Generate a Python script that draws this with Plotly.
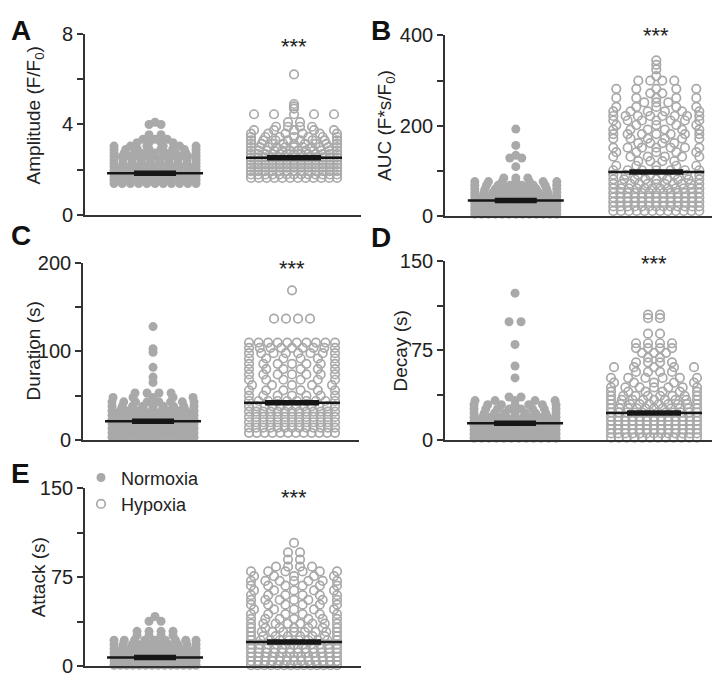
import plotly.graph_objects as go

# ---------------- data ----------------
groups = ["Normoxia", "Hypoxia"]

# A: Amplitude (F/F0)  -- value levels and number of cells at each level
amp_norm_levels = [1.40, 1.55, 1.70, 1.85, 2.00, 2.15, 2.30, 2.45, 2.60, 2.75, 2.90, 3.05, 3.20, 3.35, 3.55, 4.00, 4.10]
amp_norm_counts = [11, 11, 11, 11, 11, 11, 10, 10, 11, 9, 8, 6, 4, 3, 2, 2, 1]
amp_hyp_levels = [1.65, 1.80, 1.95, 2.10, 2.25, 2.40, 2.55, 2.70, 2.85, 3.00, 3.15, 3.30, 3.45, 3.60, 3.75, 3.90, 4.10, 4.45, 4.70, 4.80, 4.90, 6.20]
amp_hyp_counts = [12, 13, 13, 13, 13, 13, 13, 13, 12, 11, 9, 8, 7, 6, 5, 4, 2, 5, 1, 1, 1, 1]
amp_means = [1.86, 2.54]

# B: AUC (F*s/F0)
auc_norm_levels = [5, 13, 21, 29, 37, 45, 53, 61, 69, 77, 85, 110, 129, 135, 157, 193]
auc_norm_counts = [13, 14, 14, 13, 12, 11, 10, 9, 8, 7, 3, 1, 2, 1, 1, 1]
auc_hyp_levels = [12, 22, 32, 42, 52, 62, 72, 82, 92, 102, 112, 122, 132, 142, 152, 162, 172, 182, 192, 202,
                  212, 222, 232, 242, 252, 262, 272, 282, 300, 310, 325, 335, 345]
auc_hyp_counts = [12, 13, 13, 13, 13, 12, 11, 9, 8, 7, 5, 4, 6, 5, 7, 4, 6, 7, 6, 5,
                  7, 8, 6, 5, 3, 5, 2, 5, 4, 1, 1, 1, 1]
auc_means = [35, 98]

# C: Duration (s)
dur_norm_levels = [3, 8, 13, 18, 23, 28, 33, 38, 43, 48, 53, 65, 71, 82, 99, 103, 128]
dur_norm_counts = [12, 13, 13, 13, 13, 12, 11, 9, 8, 5, 4, 1, 1, 1, 1, 1, 1]
dur_hyp_levels = [8, 14, 20, 26, 32, 38, 44, 50, 56, 62, 68, 74, 80, 86, 92, 98, 104, 110, 137, 169]
dur_hyp_counts = [12, 13, 13, 13, 13, 12, 10, 7, 6, 5, 6, 7, 6, 7, 6, 8, 9, 10, 4, 1]
dur_means = [21, 42]

# D: Decay (s)
dec_norm_levels = [1.5, 5, 8.5, 12, 15.5, 19, 22.5, 26, 29.5, 33, 36, 52, 62, 80, 99, 123]
dec_norm_counts = [12, 13, 13, 12, 12, 11, 9, 8, 7, 5, 2, 1, 1, 1, 2, 1]
dec_hyp_levels = [2, 5.5, 9, 12.5, 16, 19.5, 23, 26.5, 30, 33.5, 37, 40.5, 44, 48, 52, 57, 61, 65, 69, 73, 77, 81, 89, 102, 105]
dec_hyp_counts = [12, 13, 13, 13, 13, 13, 12, 11, 10, 9, 8, 6, 7, 5, 6, 4, 5, 4, 2, 3, 4, 4, 2, 2, 2]
dec_means = [14, 22.5]

# E: Attack (s)
att_norm_levels = [1, 4.5, 8, 11.5, 15, 18.5, 22, 26, 29.5, 38, 42]
att_norm_counts = [14, 14, 13, 12, 11, 10, 9, 4, 4, 2, 1]
att_hyp_levels = [1, 4.5, 8, 11.5, 15, 18.5, 22, 25.5, 29, 32.5, 36, 40, 44, 48, 52, 56, 60, 64, 68, 72, 76, 80, 84, 90, 96, 104]
att_hyp_counts = [14, 13, 13, 12, 12, 11, 10, 8, 9, 7, 8, 7, 6, 5, 6, 7, 6, 5, 6, 7, 5, 6, 4, 2, 2, 1]
att_means = [7.5, 20.5]

# ---------------- layout / style ----------------
W, H = 720, 681
GRAY = "#a9a9a9"
AXC = "#333333"
FONT = "Liberation Sans, Arial, sans-serif"
XR = [-0.504, 1.482]          # category positions 0 and 1

panels = [
    dict(letter="A", xd=(77, 353), yd=(15, 203), yr=(0, 8), major=4, minor=2,
         title="Amplitude (F/F<sub>0</sub>)", tx=27, ty=0.55, lpos=(1, 12), star=0.93,
         data=(amp_norm_levels, amp_norm_counts, amp_hyp_levels, amp_hyp_counts, amp_means)),
    dict(letter="B", xd=(437, 716), yd=(17, 204), yr=(0, 400), major=200, minor=100,
         title="AUC (F*s/F<sub>0</sub>)", tx=378, ty=0.5, lpos=(361, 12), star=1.0,
         data=(auc_norm_levels, auc_norm_counts, auc_hyp_levels, auc_hyp_counts, auc_means)),
    dict(letter="C", xd=(75, 351), yd=(252, 435), yr=(0, 200), major=100, minor=50,
         title="Duration (s)", tx=25, ty=0.5, lpos=(1, 224), star=0.967,
         data=(dur_norm_levels, dur_norm_counts, dur_hyp_levels, dur_hyp_counts, dur_means)),
    dict(letter="D", xd=(437, 713), yd=(250, 435), yr=(0, 150), major=75, minor=37.5,
         title="Decay (s)", tx=392, ty=0.5, lpos=(361, 226), star=0.984,
         data=(dec_norm_levels, dec_norm_counts, dec_hyp_levels, dec_hyp_counts, dec_means)),
    dict(letter="E", xd=(77, 353), yd=(485, 669), yr=(0, 150), major=75, minor=37.5,
         title="Attack (s)", tx=30, ty=0.5, lpos=(1, 470), star=0.951,
         data=(att_norm_levels, att_norm_counts, att_hyp_levels, att_hyp_counts, att_means)),
]


def swarm(levels, counts, center, ppu, maxhalf_px):
    """Deterministic row-based swarm: points at one level are spread symmetrically."""
    xs, ys = [], []
    for lv, n in zip(levels, counts):
        if n == 1:
            offs = [0.0]
        else:
            cap = 12.0 if n <= 4 else 20.0
            s = min(cap, 2 * maxhalf_px / (n - 1))
            offs = [(i - (n - 1) / 2) * s for i in range(n)]
        for o in offs:
            xs.append(center + o / ppu)
            ys.append(lv)
    return xs, ys


fig = go.Figure()
annotations = []
layout_axes = {}

for i, p in enumerate(panels, start=1):
    xa = "x" if i == 1 else f"x{i}"
    ya = "y" if i == 1 else f"y{i}"
    xkey = "xaxis" if i == 1 else f"xaxis{i}"
    ykey = "yaxis" if i == 1 else f"yaxis{i}"
    x0, x1 = p["xd"]
    ytop, ybot = p["yd"]
    ppu = (x1 - x0) / (XR[1] - XR[0])
    nl, nc, hl, hc, means = p["data"]
    legend_on = p["letter"] == "E"

    xs, ys = swarm(nl, nc, 0, ppu, 41)
    fig.add_trace(go.Scatter(x=xs, y=ys, mode="markers", xaxis=xa, yaxis=ya, name=groups[0],
                             showlegend=legend_on, cliponaxis=False,
                             marker=dict(symbol="circle", size=9, color=GRAY, line=dict(width=0))))
    xs, ys = swarm(hl, hc, 1, ppu, 43)
    fig.add_trace(go.Scatter(x=xs, y=ys, mode="markers", xaxis=xa, yaxis=ya, name=groups[1],
                             showlegend=legend_on, cliponaxis=False,
                             marker=dict(symbol="circle-open", size=8.5, color=GRAY, line=dict(width=1.7, color=GRAY))))
    # mean lines (thin long) and SEM caps (thick short)
    for g, m in enumerate(means):
        hw_thin = 48 / ppu
        hw_thick = (21 if g == 0 else 27) / ppu
        fig.add_trace(go.Scatter(x=[g - hw_thin, g + hw_thin], y=[m, m], mode="lines", xaxis=xa, yaxis=ya,
                                 showlegend=False, hoverinfo="skip", cliponaxis=False,
                                 line=dict(color="#161616", width=2.5)))
        fig.add_trace(go.Scatter(x=[g - hw_thick, g + hw_thick], y=[m, m], mode="lines", xaxis=xa, yaxis=ya,
                                 showlegend=False, hoverinfo="skip", cliponaxis=False,
                                 line=dict(color="#161616", width=5.5)))

    layout_axes[xkey] = dict(domain=[x0 / W, x1 / W], range=XR, anchor=ya, showline=True, linewidth=1.6,
                             linecolor=AXC, ticks="", showticklabels=False, showgrid=False, zeroline=False,
                             fixedrange=True)
    layout_axes[ykey] = dict(domain=[1 - ybot / H, 1 - ytop / H], range=list(p["yr"]), anchor=xa, showline=True,
                             linewidth=1.6, linecolor=AXC, ticks="outside", ticklen=6, tickwidth=1.5,
                             tickcolor=AXC, tickmode="linear", tick0=0, dtick=p["major"],
                             minor=dict(tick0=0, dtick=p["minor"], ticks="outside", ticklen=6, tickwidth=1.5,
                                        tickcolor=AXC, showgrid=False),
                             showgrid=False, zeroline=False,
                             tickfont=dict(size=20, color="#222222", family=FONT), fixedrange=True)

    annotations.append(dict(text=p["title"], textangle=-90, xref="paper", x=p["tx"] / W, xanchor="center",
                            yref=f"{ya} domain", y=p["ty"], yanchor="middle", showarrow=False,
                            font=dict(size=19, color="#222222", family=FONT)))
    annotations.append(dict(text=f"<b>{p['letter']}</b>", xref="paper", x=p["lpos"][0] / W, xanchor="left",
                            yref="paper", y=1 - p["lpos"][1] / H, yanchor="middle", showarrow=False,
                            font=dict(size=28, color="#111111", family=FONT)))
    annotations.append(dict(text="***", xref=xa, x=1, xanchor="center", yref=f"{ya} domain", y=p["star"],
                            yanchor="middle", showarrow=False, font=dict(size=22, color="#222222", family=FONT)))

fig.update_layout(
    width=W, height=H, margin=dict(l=0, r=0, t=0, b=0),
    paper_bgcolor="white", plot_bgcolor="white",
    font=dict(family=FONT, color="#222222"),
    annotations=annotations,
    legend=dict(x=73 / W, y=1 - 455 / H, xanchor="left", yanchor="top", bgcolor="rgba(0,0,0,0)",
                font=dict(size=18, family=FONT, color="#222222"), itemwidth=30, tracegroupgap=0),
    **layout_axes,
)

fig.write_html("out.html")
